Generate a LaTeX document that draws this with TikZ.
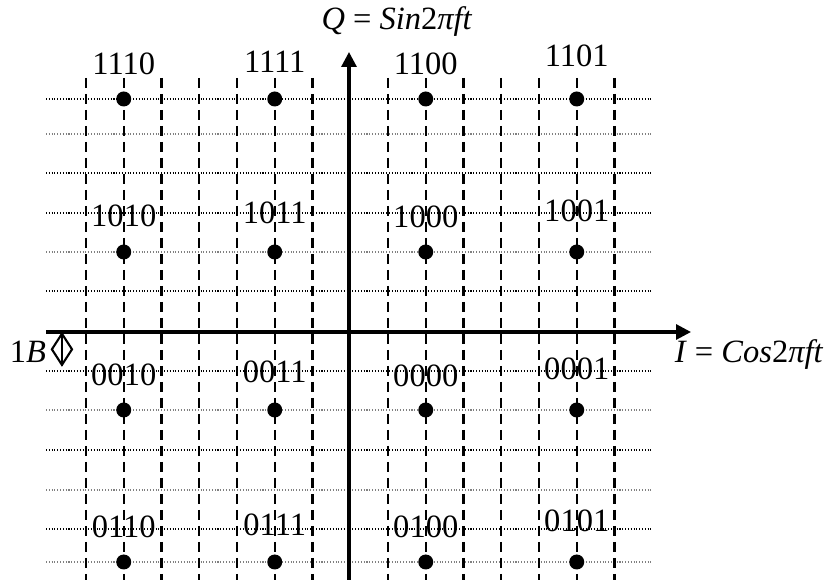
\documentclass[tikz,border=0pt]{standalone}
\usepackage{fontspec}
\setmainfont{Liberation Serif}
\usetikzlibrary{arrows.meta, positioning, shapes.geometric}

\begin{document}
\begin{tikzpicture}[
    x=0.02cm, y=-0.02cm,
    every node/.style={font=\fontsize{18.5}{21}\selectfont},
    hline/.style={densely dotted, line width=0.6pt, color=black},
    hlinelt/.style={densely dotted, line width=0.6pt, color=gray},
    vline/.style={dash pattern=on 0.2cm off 0.12cm, line width=1.4pt},
    axarr/.style={-{Triangle[length=0.3cm, width=0.3cm]}, line width=1.8pt},
    sym/.style={circle, fill=black, inner sep=0pt, minimum size=0.3cm},
    lbl/.style={inner sep=0pt},
    bdia/.style={diamond, draw, line width=1.2pt, inner sep=0pt, minimum width=0.42cm, minimum height=0.64cm}
]

\useasboundingbox (0,0) rectangle (829,580);

% Decision grid
\foreach \y in {99,173,213,291,371,450,529} \draw[hline] (46,\y) -- (652,\y);
\foreach \y in {134,252,410,490,562} \draw[hlinelt] (46,\y) -- (652,\y);
\foreach \k in {0,1,2,3,4,5,6,8,9,10,11,12,13,14} \draw[vline] ({86+37.75*\k},78) -- ({86+37.75*\k},580);

% Axes
\coordinate (xs) at (46,332);
\coordinate (xe) at (691,332);
\coordinate (ys) at (349,580);
\coordinate (ye) at (349,52);
\draw[axarr] (xs) -- (xe);
\draw[axarr] (ys) -- (ye);
\node[lbl, anchor=base] (qlbl) at (397,30) {\textit{Q} = \textit{Sin}2\textit{πft}};
\node[lbl, anchor=base] (ilbl) at (749,363) {\textit{I} = \textit{Cos}2\textit{πft}};

% Bit spacing mark
\node[lbl, anchor=base] (bw) at (28,363) {1\textit{B}};
\node[bdia, right=0.08cm of bw, yshift=0.06cm] (bd) {};
\draw[line width=1.2pt] (bd.north) -- (bd.south);

% Row 1
\node[sym] (p1110) at (123.75,99) {};
\node[sym] (p1111) at (274.75,99) {};
\node[sym] (p1100) at (425.75,99) {};
\node[sym] (p1101) at (576.75,99) {};
\node[lbl, above=0.32cm of p1110] {1110};
\node[lbl, above=0.37cm of p1111] {1111};
\node[lbl, above=0.32cm of p1100] {1100};
\node[lbl, above=0.47cm of p1101] {1101};

% Row 2
\node[sym] (p1010) at (123.75,252) {};
\node[sym] (p1011) at (274.75,252) {};
\node[sym] (p1000) at (425.75,252) {};
\node[sym] (p1001) at (576.75,252) {};
\node[lbl, above=0.34cm of p1010] {1010};
\node[lbl, above=0.4cm of p1011] {1011};
\node[lbl, above=0.31cm of p1000] {1000};
\node[lbl, above=0.43cm of p1001] {1001};

% Row 3
\node[sym] (p0010) at (123.75,410) {};
\node[sym] (p0011) at (274.75,410) {};
\node[sym] (p0000) at (425.75,410) {};
\node[sym] (p0001) at (576.75,410) {};
\node[lbl, above=0.31cm of p0010] {0010};
\node[lbl, above=0.37cm of p0011] {0011};
\node[lbl, above=0.29cm of p0000] {0000};
\node[lbl, above=0.43cm of p0001] {0001};

% Row 4
\node[sym] (p0110) at (123.75,562) {};
\node[sym] (p0111) at (274.75,562) {};
\node[sym] (p0100) at (425.75,562) {};
\node[sym] (p0101) at (576.75,562) {};
\node[lbl, above=0.31cm of p0110] {0110};
\node[lbl, above=0.35cm of p0111] {0111};
\node[lbl, above=0.31cm of p0100] {0100};
\node[lbl, above=0.43cm of p0101] {0101};

\end{tikzpicture}
\end{document}
